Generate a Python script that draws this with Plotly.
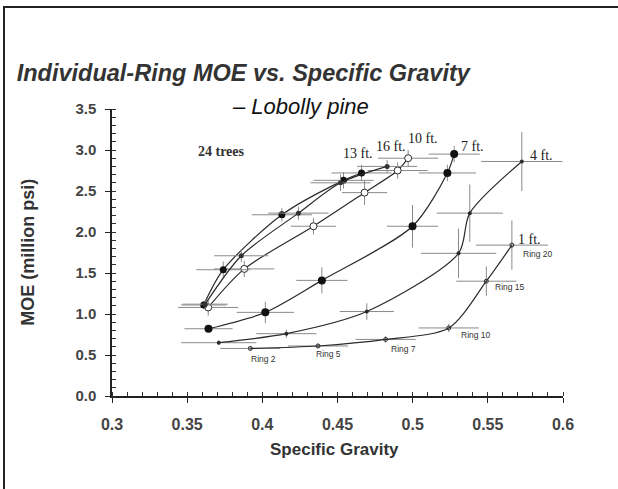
import plotly.graph_objects as go

# Specific gravity (x) and MOE in million psi (y) for each stem height,
# traced ring by ring from pith outward, with half-widths of the error bars.
sg_1ft = [0.392, 0.437, 0.482, 0.524, 0.549, 0.566]
moe_1ft = [0.58, 0.61, 0.69, 0.83, 1.40, 1.84]
sgerr_1ft = [0.020, 0.020, 0.020, 0.020, 0.020, 0.024]
moeerr_1ft = [0.03, 0.03, 0.04, 0.05, 0.18, 0.30]
rings_1ft = ["Ring 2", "Ring 5", "Ring 7", "Ring 10", "Ring 15", "Ring 20"]

sg_4ft = [0.371, 0.416, 0.4695, 0.5305, 0.538, 0.5726]
moe_4ft = [0.65, 0.76, 1.03, 1.74, 2.23, 2.86]
sgerr_4ft = [0.025, 0.020, 0.018, 0.025, 0.022, 0.027]
moeerr_4ft = [0.03, 0.05, 0.10, 0.30, 0.35, 0.36]

sg_7ft = [0.3642, 0.402, 0.4396, 0.4999, 0.5231, 0.5276]
moe_7ft = [0.82, 1.02, 1.41, 2.07, 2.72, 2.95]
sgerr_7ft = [0.016, 0.019, 0.017, 0.017, 0.019, 0.017]
moeerr_7ft = [0.03, 0.13, 0.16, 0.26, 0.10, 0.10]

sg_10ft = [0.364, 0.388, 0.434, 0.468, 0.490, 0.497]
moe_10ft = [1.08, 1.55, 2.07, 2.48, 2.75, 2.90]
sgerr_10ft = [0.020, 0.020, 0.015, 0.015, 0.020, 0.020]
moeerr_10ft = [0.10, 0.10, 0.10, 0.15, 0.10, 0.10]

sg_13ft = [0.361, 0.374, 0.413, 0.454, 0.466]
moe_13ft = [1.11, 1.54, 2.21, 2.63, 2.72]
sgerr_13ft = [0.015, 0.018, 0.020, 0.020, 0.020]
moeerr_13ft = [0.05, 0.10, 0.08, 0.10, 0.10]

sg_16ft = [0.362, 0.386, 0.424, 0.452, 0.483]
moe_16ft = [1.12, 1.71, 2.23, 2.60, 2.80]
sgerr_16ft = [0.015, 0.018, 0.020, 0.020, 0.020]
moeerr_16ft = [0.05, 0.08, 0.08, 0.10, 0.08]

x_ticks = [0.3, 0.35, 0.4, 0.45, 0.5, 0.55, 0.6]
y_ticks = [0.0, 0.5, 1.0, 1.5, 2.0, 2.5, 3.0, 3.5]

INK = "#2a2a2a"
BAR = "#8a8a8a"

series = [
    ("1 ft.", sg_1ft, moe_1ft, sgerr_1ft, moeerr_1ft,
     dict(symbol="circle-open", size=4, color=INK)),
    ("4 ft.", sg_4ft, moe_4ft, sgerr_4ft, moeerr_4ft,
     dict(symbol="circle", size=4, color=INK)),
    ("7 ft.", sg_7ft, moe_7ft, sgerr_7ft, moeerr_7ft,
     dict(symbol="circle", size=8, color="#111")),
    ("10 ft.", sg_10ft, moe_10ft, sgerr_10ft, moeerr_10ft,
     dict(symbol="circle", size=7, color="white", line=dict(color=INK, width=1))),
    ("13 ft.", sg_13ft, moe_13ft, sgerr_13ft, moeerr_13ft,
     dict(symbol="circle", size=7, color="#111")),
    ("16 ft.", sg_16ft, moe_16ft, sgerr_16ft, moeerr_16ft,
     dict(symbol="circle", size=5, color="#333")),
]

fig = go.Figure()
for name, xs, ys, ex, ey, mk in series:
    fig.add_trace(go.Scatter(
        x=xs, y=ys, mode="lines+markers", name=name,
        line=dict(color=INK, width=1.2, shape="spline", smoothing=0.8),
        marker=mk,
        error_x=dict(type="data", array=ex, color=BAR, thickness=1, width=0),
        error_y=dict(type="data", array=ey, color=BAR, thickness=1, width=0),
        showlegend=False,
    ))

# Height labels beside the outermost ring of each curve
label_font = dict(family="Liberation Serif", size=14, color="#222")
height_offsets = {
    "1 ft.": (18, 6), "4 ft.": (20, 6), "7 ft.": (18, 8),
    "10 ft.": (15, 20), "13 ft.": (-4, 19), "16 ft.": (4, 20),
}
for name, xs, ys, *_ in series:
    dx, dy = height_offsets[name]
    fig.add_annotation(x=xs[-1], y=ys[-1], text=name, showarrow=False,
                       xshift=dx, yshift=dy, font=label_font)

# Ring numbers along the 1 ft curve
ring_offsets = [(13, -11), (11, -8), (18, -10), (27, -7), (24, -6), (26, -9)]
for xv, yv, txt, (dx, dy) in zip(sg_1ft, moe_1ft, rings_1ft, ring_offsets):
    fig.add_annotation(x=xv, y=yv, text=txt, showarrow=False, xshift=dx, yshift=dy,
                       font=dict(family="Liberation Sans", size=8.5, color="#333"))

fig.add_annotation(x=0.3728, y=2.98, text="<b>24 trees</b>", showarrow=False,
                   font=dict(family="Liberation Serif", size=14, color="#333"))

fig.add_annotation(xref="paper", yref="paper", x=0.417, y=1.01, xanchor="center",
                   yanchor="middle", text="<i>– Lobolly pine</i>", showarrow=False,
                   font=dict(family="Liberation Sans", size=22, color="#111"))
fig.add_annotation(xref="paper", yref="paper", x=-0.188, y=0.5, xanchor="center",
                   yanchor="middle", text="<b>MOE (million psi)</b>",
                   textangle=-90, showarrow=False,
                   font=dict(family="Liberation Sans", size=18, color="#333"))
fig.add_annotation(xref="paper", yref="paper", x=0.494, y=-0.185, xanchor="center",
                   yanchor="middle", text="<b>Specific Gravity</b>",
                   showarrow=False, font=dict(family="Liberation Sans", size=17, color="#333"))

# Frame around the slide
fig.add_shape(type="rect", xref="paper", yref="paper", xsizemode="pixel", ysizemode="pixel",
              xanchor=0, yanchor=1, x0=-108, x1=700, y0=102, y1=-600,
              line=dict(color="#222", width=2))

fig.update_layout(
    width=618, height=489,
    margin=dict(l=112, r=55, t=109, b=93),
    paper_bgcolor="white", plot_bgcolor="white",
    title=dict(text="<b><i>Individual-Ring MOE vs. Specific Gravity</i></b>",
               x=0.027, xanchor="left", y=0.852, yanchor="middle",
               font=dict(family="Liberation Sans", size=23.5, color="#333")),
    xaxis=dict(range=[0.3, 0.6], tickvals=x_ticks, ticktext=[f"{v:g}" for v in x_ticks],
               showgrid=False, zeroline=False, showline=True, linecolor="#222", linewidth=1.5,
               ticks="outside", ticklen=5, tickcolor="#222",
               tickfont=dict(family="Liberation Sans", size=16, color="#444", weight="bold"),
               ticklabelstandoff=8,
               minor=dict(dtick=0.01, ticks="inside", ticklen=4, tickcolor="#333", showgrid=False)),
    yaxis=dict(range=[0, 3.5], tickvals=y_ticks, ticktext=[f"{v:.1f}" for v in y_ticks],
               showgrid=False, zeroline=False, showline=True, linecolor="#222", linewidth=1.5,
               ticks="outside", ticklen=5, tickcolor="#222",
               tickfont=dict(family="Liberation Sans", size=15, color="#444", weight="bold"),
               ticklabelstandoff=6,
               minor=dict(dtick=0.1, ticks="inside", ticklen=4, tickcolor="#333", showgrid=False)),
)

fig.write_html("out.html")
